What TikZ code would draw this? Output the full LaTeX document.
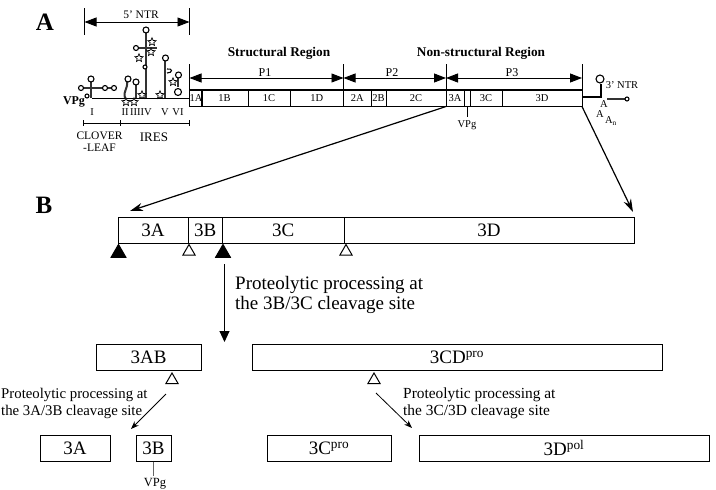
\documentclass[tikz,border=0pt]{standalone}
\usepackage{fontspec}
\setmainfont{Liberation Serif}
\usetikzlibrary{arrows.meta,shapes.geometric}
\tikzset{
  cell/.style={draw,line width=0.8pt,anchor=north west,inner sep=0pt,outer sep=0pt,align=center},
  gene/.style={cell,font=\fontsize{10.5}{10}\selectfont,minimum height=16.5pt},
  big/.style={cell,font=\fontsize{19}{19}\selectfont,minimum height=26.5pt,line width=1pt},
  span/.style={line width=0.9pt,{Triangle[length=12pt,width=9pt]}-{Triangle[length=12pt,width=9pt]}},
  tick/.style={line width=0.8pt},
  rna/.style={line width=1.1pt},
  stem/.style={line width=2pt,black!80},
  loopc/.style={circle,draw,line width=1.1pt,fill=white,inner sep=0pt,minimum size=#1},
  starm/.style={star,star points=5,star point ratio=2.2,draw,line width=0.7pt,fill=white,inner sep=0pt,minimum size=8.5pt},
  tri/.style={regular polygon,regular polygon sides=3,draw,line width=1pt,inner sep=0pt,minimum size=14pt},
  tridark/.style={tri,fill=black,minimum size=17pt},
  small/.style={font=\fontsize{10.5}{10}\selectfont,inner sep=0pt},
  proc/.style={align=left,anchor=north west,inner sep=0pt},
  panel/.style={font=\bfseries\fontsize{25}{25}\selectfont,inner sep=0pt},
  regionlab/.style={font=\bfseries\fontsize{13.3}{13}\selectfont,inner sep=0pt},
  zoomarrow/.style={line width=1.2pt,-{Stealth[length=13pt,width=8pt]}},
  cutarrow/.style={line width=0.8pt,-{Stealth[length=8pt,width=6pt]}}
}
\begin{document}
\begin{tikzpicture}[x=1pt,y=-1pt]
\useasboundingbox (0,0) rectangle (716,490);

\node[panel] (labA) at (45,22) {A};
\node[panel] (labB) at (44,205) {B};

% span markers over the genome
\coordinate (a0t) at (84.5,8);  \coordinate (a0b) at (84.5,35);
\coordinate (a1t) at (189.5,8); \coordinate (a1b) at (189.5,35);
\draw[tick] (a0t) -- (a0b);
\draw[tick] (a1t) -- (a1b);
\draw[span] (84.5,22) -- (189.5,22);
\node[small,font=\fontsize{11.5}{11}\selectfont] (ntr5) at (141,15) {5' NTR};

\node[regionlab] (sreg) at (279,53) {Structural Region};
\node[regionlab] (nreg) at (481,53) {Non-structural Region};

\foreach \x/\n in {189.5/v0,343.5/v1,446/v2,582/v3}
  \draw[tick] (\x,64) -- (\x,106);
\draw[span] (189.5,78) -- (343.5,78);
\draw[span] (343.5,78) -- (446,78);
\draw[span] (446,78) -- (582,78);
\node[font=\fontsize{12}{12}\selectfont,inner sep=0pt] (p1) at (265,73) {P1};
\node[font=\fontsize{12}{12}\selectfont,inner sep=0pt] (p2) at (392,73) {P2};
\node[font=\fontsize{12}{12}\selectfont,inner sep=0pt] (p3) at (512,73) {P3};

% genome cells
\foreach \nm/\xa/\xb/\txt in {c1A/189.5/201/1A,c1B/201/248/1B,c1C/248/290/1C,c1D/290/343.5/1D,
  c2A/343.5/371/2A,c2B/371/386/2B,c2C/386/446/2C,c3A/446/464/3A,c3B/464/470/{},c3C/470/502/3C,c3D/502/582/3D}
{
  \pgfmathsetmacro{\cellw}{\xb-\xa}
  \node[gene,minimum width=\cellw pt] (\nm) at (\xa,90) {\txt};
}
\draw[line width=1.5pt] (c1A.north west) -- (c3D.north east);
\draw[line width=1.2pt] (c1A.south west) -- (c3D.south east);

\coordinate (vpgtop) at (467,107);
\node[small] (vpgA) at (467,125) {VPg};
\draw[line width=0.6pt] (vpgtop) -- (467,117);

% 5' untranslated region: clover-leaf
\draw[rna] (92,98.5) -- (189.5,98.5);
\draw[stem] (91,98) -- (91,82);
\draw[stem] (81,88) -- (115,88);
\node[loopc=6pt] (cl1) at (91,79) {};
\node[loopc=5pt] (cl2) at (81,88) {};
\node[loopc=5pt] (cl3) at (105,88) {};
\node[loopc=5pt] (cl4) at (114,88) {};
\node[loopc=4pt] (cl5) at (87,96) {};
\node[font=\bfseries\fontsize{12}{12}\selectfont,inner sep=0pt] (vpg5) at (74,102) {VPg};

% IRES domains II to VI
\draw[stem] (125,98) .. controls (123,90) and (128,90) .. (127,81);
\node[loopc=6pt] (d2) at (128,79) {};
\draw[stem] (136,98) -- (136,85);
\node[loopc=6pt] (d3) at (136,82) {};
\draw[stem] (146,98) -- (146,32);
\draw[stem] (136,48) -- (157,48);
\node[loopc=6pt] (d4) at (146,30) {};
\node[loopc=5pt] (d4a) at (136,48) {};
\node[loopc=4pt] (d4b) at (145,67) {};
\draw[stem] (165,98) -- (165,60);
\node[loopc=6pt] (d5) at (165.5,58) {};
\draw[rna] (167,69) .. controls (173,68) and (173,73) .. (167,73);
\draw[stem] (178,87) -- (178,77);
\node[loopc=6pt] (d6) at (178.5,75) {};
\node[loopc=7pt] (d6a) at (178,92) {};

\foreach \nm/\x/\y in {s1/152/42,s2/151/52,s3/139/58,s4/173/82,s5/160/95,s6/142/95,s7/126/102,s8/134/102}
  \node[starm] (\nm) at (\x,\y) {};

\foreach \nm/\x/\t in {r1/92/I,r2/125/II,r3/141/IIIIV,r4/165/V,r5/178/VI}
  \node[small] (\nm) at (\x,112) {\t};

\coordinate (sc0) at (83,123); \coordinate (sc1) at (120,123); \coordinate (sc2) at (189,123);
\draw[line width=0.5pt] (sc0) -- (sc2);
\foreach \c in {sc0,sc1,sc2} \draw[line width=0.5pt] (\c) ++(0,-3) -- ++(0,6);
\node[small,align=center,font=\fontsize{11.5}{12}\selectfont] (clover) at (99.5,142) {CLOVER\\-LEAF};
\node[font=\fontsize{13}{13}\selectfont,inner sep=0pt] (ires) at (154,137) {IRES};

% 3' untranslated region
\draw[rna] (582,97) -- (601,97) -- (601,84);
\node[loopc=8pt] (ntrloop) at (600,79) {};
\node[small] (ntr3) at (622,85) {3' NTR};
\draw[stem] (607,99) -- (626,99);
\node[loopc=4pt] (ntrend) at (627,99) {};
\node[small] (ta1) at (604,104) {A};
\node[small] (ta2) at (600,114) {A};
\node[small] (ta3) at (611,121) {A\textsubscript{n}};

% processed region
\foreach \nm/\xa/\xb/\txt in {b3A/118/188/3A,b3B/188/222.5/3B,b3C/222.5/344/3C,b3D/344/634/3D}
{
  \pgfmathsetmacro{\cellw}{\xb-\xa}
  \node[big,minimum width=\cellw pt] (\nm) at (\xa,217) {\txt};
}
\coordinate (tipL) at (130,211);
\coordinate (tipR) at (633,212);
\draw[zoomarrow] (c3A.south west) -- (tipL);
\draw[zoomarrow] (c3D.south east) -- (tipR);

\node[tridark,anchor=north] (t1) at (118.5,243.5) {};
\node[tri,anchor=north] (t2) at (189,243.5) {};
\node[tridark,anchor=north] (t3) at (223,243.5) {};
\node[tri,anchor=north] (t4) at (346,243.5) {};

\coordinate (mainstart) at (224.5,264);
\node[proc,font=\fontsize{19}{20}\selectfont] (proc1) at (235,276) {Proteolytic processing at\\the 3B/3C cleavage site};

% cleavage products
\node[big,minimum width=105pt] (p3AB) at (96,344) {3AB};
\node[big,minimum width=410pt] (p3CD) at (252,344) {3CD\textsuperscript{pro}};
\node[big,minimum width=70pt] (p3A) at (40,435) {3A};
\node[big,minimum width=35pt] (p3B) at (136,435) {3B};
\node[big,minimum width=124pt] (p3C) at (267,435) {3C\textsuperscript{pro}};
\node[big,minimum width=290pt] (p3Dp) at (419,435) {3D\textsuperscript{pol}};

\coordinate (mainend) at (224.5,342);
\draw[line width=1pt,-{Triangle[length=11pt,width=10pt]}] (mainstart) -- (mainend);

\node[tri,anchor=north] (t5) at (172,372) {};
\node[tri,anchor=north] (t6) at (374,372) {};
\coordinate (a1s) at (166,394); \coordinate (a1e) at (131,429);
\coordinate (a2s) at (376,393); \coordinate (a2e) at (412,428);
\draw[cutarrow] (a1s) -- (a1e);
\draw[cutarrow] (a2s) -- (a2e);
\node[proc,font=\fontsize{14.8}{17}\selectfont] (proc2) at (1,388) {Proteolytic processing at\\the 3A/3B cleavage site};
\node[proc,font=\fontsize{15.4}{17}\selectfont] (proc3) at (403,388) {Proteolytic processing at\\the 3C/3D cleavage site};

\draw[line width=0.4pt,black!60] (p3B.south) -- (153.5,476);
\node[small,font=\fontsize{12.5}{12}\selectfont] (vpgB) at (155,484) {VPg};
\end{tikzpicture}
\end{document}
